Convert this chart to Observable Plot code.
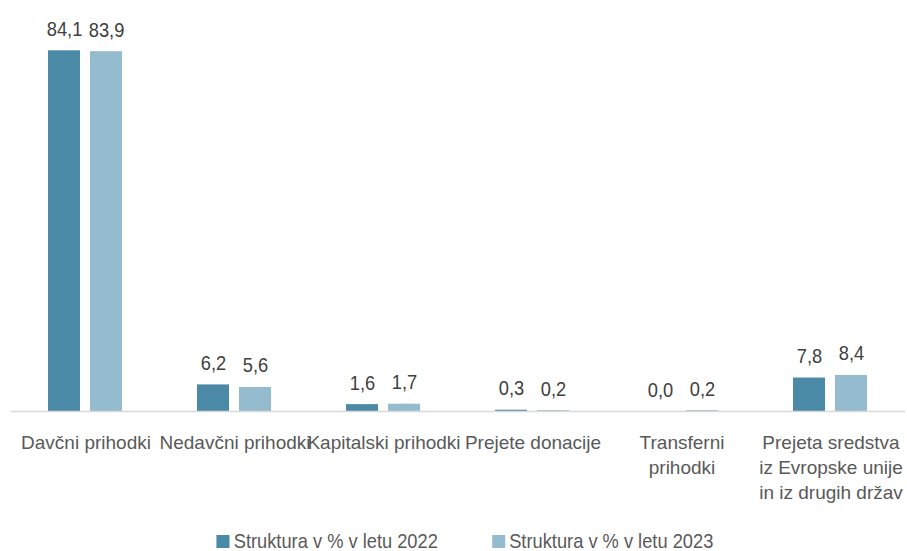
<!DOCTYPE html>
<html>
<head>
<meta charset="utf-8">
<script src="https://cdn.jsdelivr.net/npm/d3@7"></script>
<script src="https://cdn.jsdelivr.net/npm/@observablehq/plot@0.6"></script>
<style>
  body { margin: 0; background: #fff; font-family: "Liberation Sans", Arial, sans-serif; overflow: hidden; }
  #legend { display: flex; justify-content: center; gap: 62px; font-size: 21px; line-height: 18px; height: 18px; color: #595959; margin-top: 14px; padding-left: 26px; transform: scaleX(0.87); transform-origin: center; }
  #legend span.item { display: flex; align-items: center; gap: 5px; }
  #legend span.sw { width: 15px; height: 13px; display: inline-block; }
</style>
</head>
<body>
<div id="chart"></div>
<div id="legend"></div>
<script>
const categories = ["Davčni prihodki", "Nedavčni prihodki", "Kapitalski prihodki", "Prejete donacije", "Transferni prihodki", "Prejeta sredstva iz Evropske unije in iz drugih držav"];
const tickLabels = ["Davčni prihodki", "Nedavčni prihodki", "Kapitalski prihodki", "Prejete donacije", "Transferni\nprihodki", "Prejeta sredstva\niz Evropske unije\nin iz drugih držav"];
const seriesNames = ["Struktura v % v letu 2022", "Struktura v % v letu 2023"];
const values2022 = [84.1, 6.2, 1.6, 0.3, 0.0, 7.8];
const values2023 = [83.9, 5.6, 1.7, 0.2, 0.2, 8.4];
const colors = ["#4a8aa7", "#95bbcf"];

const data = [];
categories.forEach((c, i) => {
  data.push({category: c, series: seriesNames[0], value: values2022[i]});
  data.push({category: c, series: seriesNames[1], value: values2023[i]});
});
const fmt = v => v.toFixed(1).replace(".", ",");
const labelOf = new Map(categories.map((c, i) => [c, tickLabels[i]]));

const chart = Plot.plot({
  width: 907,
  height: 518,
  marginLeft: 8,
  marginRight: 0,
  marginTop: 25,
  marginBottom: 107,
  style: {fontFamily: '"Liberation Sans", Arial, sans-serif', color: "#595959", background: "#fff"},
  fx: {domain: categories, padding: 0, label: null},
  x: {domain: seriesNames, paddingInner: 0.2326, paddingOuter: 0.86, axis: null},
  y: {domain: [0, 90], axis: null},
  color: {domain: seriesNames, range: colors},
  marks: [
    Plot.barY(data, {fx: "category", x: "series", y: "value", fill: "series"}),
    Plot.ruleY([0], {stroke: "#d9d9d9", strokeWidth: 1.5}),
    Plot.text(data, {fx: "category", x: "series", y: "value", text: d => fmt(d.value), dy: -15, lineAnchor: "bottom", fontSize: 21, fill: "#404040", className: "vlabel"}),
    Plot.axisFx({anchor: "bottom", tickSize: 0, tickPadding: 20, fontSize: 19, lineHeight: 1.32, tickFormat: d => labelOf.get(d), label: null, fill: "#595959"})
  ]
});
document.getElementById("chart").appendChild(chart);

// emulate the condensed typeface of the original for the value labels
const squeeze = 0.87;
chart.querySelectorAll(".vlabel text").forEach(t => {
  const len = t.getComputedTextLength();
  if (len > 0) {
    t.setAttribute("textLength", (len * squeeze).toFixed(2));
    t.setAttribute("lengthAdjust", "spacingAndGlyphs");
  }
});

const legend = document.getElementById("legend");
seriesNames.forEach((s, i) => {
  const item = document.createElement("span");
  item.className = "item";
  const sw = document.createElement("span");
  sw.className = "sw";
  sw.style.background = colors[i];
  item.appendChild(sw);
  item.appendChild(document.createTextNode(s));
  legend.appendChild(item);
});
</script>
</body>
</html>
